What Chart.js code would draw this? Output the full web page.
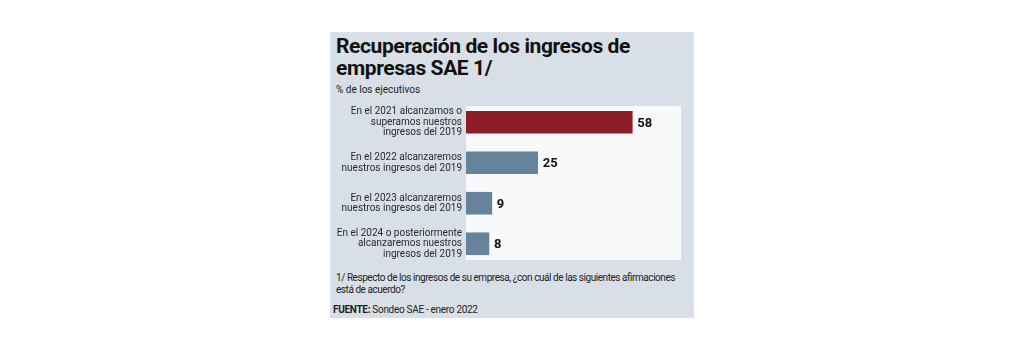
<!DOCTYPE html>
<html>
<head>
<meta charset="utf-8">
<script src="https://cdn.jsdelivr.net/npm/chart.js@4"></script>
<style>
  body { margin: 0; background: #fff; width: 1024px; height: 352px; position: relative; overflow: hidden; font-family: Roboto, sans-serif; }
  #panel { position: absolute; left: 330px; top: 32px; width: 364px; height: 286px; background: #d9dfe6; }
  .t { position: absolute; left: 6px; color: #111; white-space: nowrap; }
  #title { top: 3px; font-size: 21px; font-weight: bold; line-height: 22px; letter-spacing: -0.4px; }
  #sub { top: 52px; font-size: 10px; color: #222; }
  #note { top: 240px; font-size: 10px; line-height: 12px; color: #222; letter-spacing: -0.45px; }
  #src { top: 272px; left: 3px; font-size: 10px; color: #222; letter-spacing: -0.3px; }
  #wrap { position: absolute; left: 0; top: 68px; width: 364px; height: 165px; }
</style>
</head>
<body>
<div id="panel">
  <div class="t" id="title">Recuperación de los ingresos de<br>empresas SAE 1/</div>
  <div class="t" id="sub">% de los ejecutivos</div>
  <div id="wrap"><canvas id="chart"></canvas></div>
  <div class="t" id="note">1/ Respecto de los ingresos de su empresa, ¿con cuál de las siguientes afirmaciones<br>está de acuerdo?</div>
  <div class="t" id="src"><b>FUENTE:</b> Sondeo SAE - enero 2022</div>
</div>
<script>
const categories = [
  ["En el 2021 alcanzamos o", "superamos nuestros", "ingresos del 2019"],
  ["En el 2022 alcanzaremos", "nuestros ingresos del 2019"],
  ["En el 2023 alcanzaremos", "nuestros ingresos del 2019"],
  ["En el 2024 o posteriormente", "alcanzaremos nuestros", "ingresos del 2019"]
];
const values = [58, 25, 9, 8];
const barColors = ['#8c1c26', '#65849b', '#65849b', '#65849b'];

// fondo blanco del área de la gráfica (un poco más corto que el área)
const areaBg = {
  id: 'areaBg',
  beforeDraw(chart) {
    const a = chart.chartArea;
    chart.ctx.save();
    chart.ctx.fillStyle = '#f7f9fb';
    chart.ctx.fillRect(a.left, a.top + 4, a.right - a.left, a.bottom - a.top - 8);
    chart.ctx.restore();
  }
};

// etiquetas de valor al final de cada barra
const valueLabels = {
  id: 'valueLabels',
  afterDatasetsDraw(chart) {
    const ctx = chart.ctx;
    const meta = chart.getDatasetMeta(0);
    ctx.save();
    ctx.font = 'bold 13px Roboto';
    ctx.fillStyle = '#111';
    ctx.textBaseline = 'middle';
    meta.data.forEach((bar, i) => {
      ctx.fillText(values[i], bar.x + 5, bar.y + 1);
    });
    ctx.restore();
  }
};

new Chart(document.getElementById('chart'), {
  type: 'bar',
  data: {
    labels: categories,
    datasets: [{
      data: values,
      backgroundColor: barColors,
      barThickness: 22
    }]
  },
  options: {
    indexAxis: 'y',
    responsive: true,
    maintainAspectRatio: false,
    animation: false,
    layout: { padding: { top: 2, right: 13, bottom: 1, left: 0 } },
    plugins: { legend: { display: false }, tooltip: { enabled: false } },
    scales: {
      x: { display: false, min: 0, max: 75 },
      y: {
        afterFit(scale) {
          scale.width = 136;
          scale.paddingTop = 0;
          scale.paddingBottom = 0;
        },
        grid: { display: false, drawTicks: false },
        border: { display: false },
        ticks: {
          color: '#2a2a2a',
          padding: 4,
          font: { family: 'Roboto', size: 10, lineHeight: 1.05 }
        }
      }
    }
  },
  plugins: [areaBg, valueLabels]
});
</script>
</body>
</html>
